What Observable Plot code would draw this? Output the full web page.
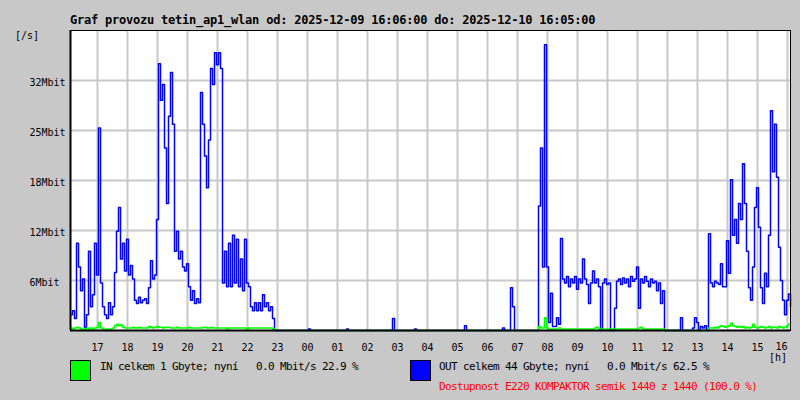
<!DOCTYPE html>
<html>
<head>
<meta charset="utf-8">
<script src="https://cdn.jsdelivr.net/npm/d3@7"></script>
<script src="https://cdn.jsdelivr.net/npm/@observablehq/plot@0.6"></script>
<style>
  html, body { margin: 0; padding: 0; background: #c8c8c8; }
  #wrap { position: relative; width: 800px; height: 400px; background: #c8c8c8; overflow: hidden; }
  #chart { position: absolute; left: 0; top: 0; }
  .t { position: absolute; font-family: "DejaVu Sans Mono", monospace; white-space: pre; color: #000; }
  .ax { font-size: 10px; line-height: 10px; }
  .lg { font-size: 11px; line-height: 11px; letter-spacing: -0.62px; }
  .sw { position: absolute; box-sizing: border-box; width: 21px; height: 21px; border: 1px solid #000; }
</style>
</head>
<body>
<div id="wrap">
  <div id="chart"></div>
  <div class="t" style="left:70px;top:13.6px;font-size:12px;line-height:12px;font-weight:bold;letter-spacing:-0.22px;">Graf provozu tetin_ap1_wlan od: 2025-12-09 16:06:00 do: 2025-12-10 16:05:00</div>
  <div class="t ax" style="left:15px;top:31px;">[/s]</div>
  <div class="t ax" style="left:769px;top:353px;">[h]</div>
  <div class="sw" style="left:70px;top:360px;background:#00ff00;"></div>
  <div class="t lg" style="left:100px;top:361px;">IN celkem 1 Gbyte; nyní   0.0 Mbit/s 22.9 %</div>
  <div class="sw" style="left:410px;top:360px;background:#0000ff;"></div>
  <div class="t lg" style="left:439px;top:361px;">OUT celkem 44 Gbyte; nyní   0.0 Mbit/s 62.5 %</div>
  <div class="t lg" style="left:439px;top:381.4px;color:#ff0000;">Dostupnost E220 KOMPAKTOR semik 1440 z 1440 (100.0 %)</div>
</div>
<script>
// ---- data: 4-minute samples starting 2025-12-09 16:06 ----
const startTime = Date.UTC(2025, 11, 9, 16, 6);
const endTime = Date.UTC(2025, 11, 10, 16, 6);
const sampleMinutes = 4;

// OUT traffic, Mbit/s (10 samples = 40 minutes per row)
const outMbit = [
  2.0, 2.5, 1.5, 11.0, 8.0, 5.0, 6.5, 0.4, 2.0, 10.0,
  3.0, 4.5, 11.0, 7.0, 25.5, 6.0, 3.0, 2.0, 1.5, 3.5,
  2.0, 3.0, 7.3, 12.5, 15.5, 9.0, 11.0, 7.5, 11.5, 7.0,
  8.2, 6.5, 3.8, 3.4, 4.2, 3.5, 3.8, 4.0, 3.4, 5.4,
  8.8, 6.5, 7.0, 14.0, 33.6, 29.0, 31.0, 23.0, 16.0, 27.0,
  32.5, 26.0, 10.0, 12.5, 9.0, 10.0, 8.0, 7.5, 8.4, 5.5,
  3.8, 5.0, 3.4, 4.0, 3.5, 30.0, 26.0, 22.0, 18.0, 24.0,
  33.0, 31.0, 35.0, 33.5, 35.0, 33.0, 6.0, 10.0, 5.5, 11.0,
  5.5, 12.0, 6.0, 11.5, 5.5, 9.0, 5.0, 11.5, 6.0, 5.5,
  3.0, 2.5, 3.5, 2.5, 3.5, 2.5, 4.5, 3.0, 3.5, 2.5,
  3.0, 1.5, 0, 0, 0, 0, 0, 0, 0, 0,
  0, 0, 0, 0, 0, 0, 0, 0, 0, 0.2,
  0, 0, 0, 0, 0, 0, 0, 0, 0, 0,
  0, 0, 0, 0, 0, 0, 0, 0, 0.2, 0,
  0, 0, 0, 0, 0, 0, 0, 0, 0, 0,
  0, 0, 0, 0, 0, 0, 0, 0, 0, 0,
  0, 1.5, 0, 0, 0, 0, 0, 0, 0, 0,
  0, 0, 0.2, 0, 0, 0, 0, 0, 0, 0,
  0, 0, 0, 0, 0, 0, 0, 0, 0, 0,
  0, 0, 0, 0, 0, 0, 0, 0.6, 0, 0,
  0, 0, 0, 0, 0, 0, 0, 0, 0, 0,
  0, 0, 0, 0, 0, 0, 0.3, 0, 0, 0,
  5.4, 3.0, 0, 0, 0, 0, 0, 0, 0, 0,
  0, 0, 0, 0, 15.7, 23.0, 8.0, 36.0, 8.0, 1.0,
  4.7, 0.5, 0.5, 1.6, 0.8, 11.6, 6.5, 6.0, 6.8, 5.5,
  6.5, 6.0, 6.8, 5.2, 6.5, 6.0, 9.0, 6.5, 5.8, 3.4,
  6.0, 7.5, 6.0, 6.5, 5.5, 0, 6.0, 6.5, 5.8, 6.0,
  0, 0, 2.8, 6.2, 6.5, 5.8, 6.6, 6.0, 6.5, 5.5,
  6.8, 6.2, 6.5, 8.0, 2.8, 6.5, 6.0, 6.8, 6.2, 5.5,
  6.5, 6.0, 6.2, 5.0, 6.0, 3.4, 5.0, 0, 0, 0,
  0, 0, 0, 0, 0, 1.6, 0, 0, 0, 0,
  0, 0.3, 1.6, 1.0, 0, 0.5, 0.3, 0.6, 0, 12.2,
  6.0, 5.5, 6.2, 6.0, 5.8, 8.4, 5.5, 5.5, 11.3, 7.2,
  19.0, 12.0, 14.0, 11.0, 16.0, 14.0, 21.0, 16.0, 10.0, 5.4,
  3.8, 8.0, 15.5, 18.0, 13.0, 5.4, 3.4, 7.2, 5.5, 12.0,
  27.7, 20.0, 26.0, 19.3, 10.5, 6.3, 3.8, 2.0, 3.8, 4.6,
  3.0
];

// IN traffic, Mbit/s
const inMbit = [
  0.3, 0.2, 0.3, 0.4, 0.3, 0.2, 0, 0.2, 0.3, 0.2,
  0.3, 0.2, 0.3, 0.4, 1.0, 0.3, 0.2, 0.2, 0.2, 0,
  0.2, 0.3, 0.6, 0.8, 0.6, 0.7, 0.4, 0.3, 0.3, 0.3,
  0.3, 0.4, 0.3, 0.3, 0.4, 0.3, 0.3, 0.3, 0.3, 0.5,
  0.4, 0.3, 0.4, 0.5, 0.4, 0.4, 0.3, 0.4, 0.4, 0.4,
  0.3, 0.3, 0.3, 0.4, 0.3, 0.3, 0.3, 0.3, 0.3, 0.4,
  0.3, 0.3, 0.3, 0.3, 0.3, 0.3, 0.4, 0.4, 0.3, 0.3,
  0.4, 0.3, 0.3, 0.3, 0.3, 0.3, 0.3, 0.3, 0.2, 0.3,
  0.3, 0.3, 0.3, 0.3, 0.3, 0.3, 0.3, 0.3, 0.2, 0.3,
  0.3, 0.3, 0.3, 0.3, 0.3, 0.3, 0.3, 0.3, 0.3, 0.3,
  0.3, 0.2, 0, 0, 0, 0, 0, 0, 0, 0,
  0, 0, 0, 0, 0, 0, 0, 0, 0, 0,
  0, 0, 0, 0, 0, 0, 0, 0, 0, 0,
  0, 0, 0, 0, 0, 0, 0, 0, 0, 0,
  0, 0, 0, 0, 0, 0, 0, 0, 0, 0,
  0, 0, 0, 0, 0, 0, 0, 0, 0, 0,
  0, 0, 0, 0, 0, 0, 0, 0, 0, 0,
  0, 0, 0, 0, 0, 0, 0, 0, 0, 0,
  0, 0, 0, 0, 0, 0, 0, 0, 0, 0,
  0, 0, 0, 0, 0, 0, 0, 0, 0, 0,
  0, 0, 0, 0, 0, 0, 0, 0, 0, 0,
  0, 0, 0, 0, 0, 0, 0, 0, 0, 0,
  0, 0, 0, 0, 0, 0, 0, 0, 0, 0,
  0, 0, 0, 0, 0.5, 0.3, 0.3, 1.6, 0.3, 0.2,
  0.2, 0.2, 0.2, 0.2, 0.3, 0.2, 0.2, 0.2, 0.2, 0.2,
  0.2, 0.2, 0.2, 0.2, 0.2, 0.2, 0.2, 0.2, 0.2, 0.2,
  0.2, 0.2, 0.3, 0.4, 0.2, 0.2, 0.2, 0.2, 0.2, 0.2,
  0.2, 0.2, 0.2, 0.2, 0.2, 0.2, 0.2, 0.2, 0.2, 0.2,
  0.2, 0.2, 0.2, 0.2, 0.3, 0.4, 0.2, 0.2, 0.2, 0.2,
  0.2, 0.2, 0.2, 0.2, 0.2, 0.2, 0.2, 0, 0, 0,
  0, 0, 0, 0, 0, 0, 0, 0, 0, 0,
  0, 0, 0, 0, 0, 0, 0, 0, 0, 0.3,
  0.3, 0.3, 0.4, 0.3, 0.5, 0.6, 0.5, 0.4, 0.5, 0.6,
  0.9, 0.6, 0.5, 0.4, 0.5, 0.4, 0.5, 0.3, 0.4, 0.3,
  0.4, 0.8, 0.4, 0.3, 0.4, 0.5, 0.4, 0.3, 0.4, 0.5,
  0.3, 0.4, 0.4, 0.3, 0.5, 0.4, 0.3, 0.4, 0.6, 0.8,
  1.0
];

const yTickValues = [6.3, 12.6, 18.9, 25.2, 31.5];
const yTickLabels = ["6Mbit", "12Mbit", "18Mbit", "25Mbit", "32Mbit"];
const yMax = 37.8;
const hourLabels = ["17","18","19","20","21","22","23","00","01","02","03","04",
                    "05","06","07","08","09","10","11","12","13","14","15","16"];

// ---- build tables ----
const toRows = arr => arr.map((v, i) => ({t: new Date(startTime + i * sampleMinutes * 60000), v}));
const outRows = toRows(outMbit);
const inRows = toRows(inMbit);
const hours = d3.utcHour.range(new Date(startTime), new Date(endTime));
const hourFmt = d => hourLabels[hours.findIndex(h => +h === +d)];
const yFmt = d => yTickLabels[yTickValues.indexOf(d)];

const gridColor = "#c8c8c8";

const chart = Plot.plot({
  width: 800,
  height: 400,
  marginLeft: 70,
  marginRight: 10,
  marginTop: 30,
  marginBottom: 70,
  style: {background: "transparent", fontFamily: "DejaVu Sans Mono", fontSize: "10px", color: "#000"},
  x: {type: "utc", domain: [new Date(startTime), new Date(endTime)]},
  y: {domain: [0, yMax]},
  marks: [
    Plot.frame({fill: "white", stroke: null}),
    Plot.ruleX(hours, {stroke: gridColor, strokeWidth: 2}),
    Plot.ruleY(yTickValues, {stroke: gridColor, strokeWidth: 2}),
    Plot.line(outRows, {x: "t", y: "v", stroke: "#0000ff", strokeWidth: 1.5, curve: "step-after"}),
    Plot.line(inRows, {x: "t", y: "v", stroke: "#00ff00", strokeWidth: 1.5, curve: "step-after"}),
    Plot.frame({stroke: "#000", strokeWidth: 1}),
    Plot.ruleX([new Date(startTime)], {stroke: "#000", strokeWidth: 2}),
    Plot.ruleY([0], {stroke: "#000", strokeWidth: 2}),
    Plot.axisX(hours.slice(0, -1), {tickSize: 0, tickPadding: 13, tickFormat: hourFmt, label: null}),
    Plot.axisX(hours.slice(-1), {tickSize: 0, tickPadding: 12, tickFormat: hourFmt, textAnchor: "end", label: null}),
    Plot.axisY(yTickValues, {tickSize: 0, tickPadding: 41, textAnchor: "start", dy: 2.5, tickFormat: yFmt, label: null})
  ]
});
document.getElementById("chart").appendChild(chart);
</script>
</body>
</html>
